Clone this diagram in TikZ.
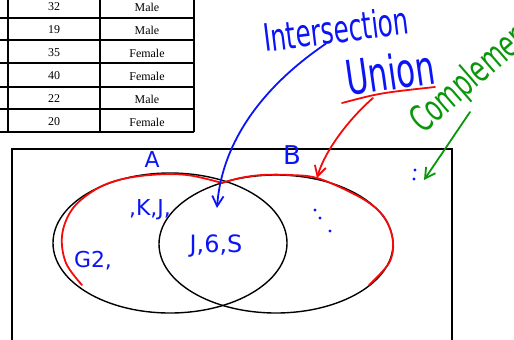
\documentclass[tikz,border=0pt]{standalone}
\usepackage{fontspec}
\setmainfont{Liberation Serif}
\newfontfamily\tallink[FakeStretch=0.65]{DejaVu Sans}
\newfontfamily\ink{DejaVu Sans}
\usepackage{tikz}
\usetikzlibrary{positioning,arrows.meta,shapes.geometric}
\usepackage{xcolor}
\definecolor{inkblue}{RGB}{10,20,245}
\definecolor{inkred}{RGB}{245,10,10}
\definecolor{inkgreen}{RGB}{10,150,10}

\begin{document}
\begin{tikzpicture}[x=1bp,y=-1bp,>={Straight Barb[length=3.6mm,width=4mm]}]
\tikzset{
  cell/.style={font=\fontsize{12}{14}\selectfont},
  grid/.style={line width=1.6pt},
  set/.style={draw,ellipse,line width=1.4pt,inner sep=0pt,outer sep=0pt},
  note/.style={text=inkblue,font=\ink\fontsize{#1}{#1}\selectfont,inner sep=0pt},
  title/.style={font=\tallink\fontsize{#1}{#1}\selectfont,inner sep=0pt},
  pen/.style={line width=1.8pt,line cap=round,line join=round}
}
\useasboundingbox (0,0) rectangle (514,339);
\clip (0,0) rectangle (514,339);

% table (cut off at the top)
\foreach \y in {18,40,63,87,109,132}
  \draw[grid] (0,\y) -- (194,\y);
\foreach \x in {8,100,194}
  \draw[grid] (\x,0) -- (\x,132);
\foreach \age/\sex [count=\i] in {32/Male,19/Male,35/Female,40/Female,22/Male,20/Female}{
  \node[cell] (age\i) at (54,23*\i-16) {\age};
  \node[cell] (sex\i) at (147,23*\i-16) {\sex};
}

% universe and the two sets
\draw[line width=2pt] (12,149) rectangle (452,350);
\node[set,minimum width=234bp,minimum height=140bp] (A) at (170,243) {};
\node[set,minimum width=234bp,minimum height=138bp] (B) at (276,244) {};

% union outline
\draw[pen,inkred] plot[smooth,tension=0.6] coordinates {(82,285) (66,263) (62,236) (71,211) (90,193) (115,181) (150,175) (187,175) (222,183)};
\draw[pen,inkred] plot[smooth,tension=0.6] coordinates {(222,183) (240,178) (262,175) (290,175) (317,178) (350,192) (372,205) (386,220) (393,242) (389,263) (369,285)};

% set labels and elements
\node[note=22] (lA) at (152,160) {A};
\node[note=26] (lB) at (292,155) {B};
\node[note=22] (onlyA) at (150,210) {,K,J,};
\node[note=22] (g2) at (93,261) {G2,};
\node[note=24] (both) at (216,246) {J,6,S};
\foreach \p in {(315,210),(320,218),(330,231),(415,170),(414,179)}
  \fill[inkblue] \p circle (1.6);

% headings
\node[title=38,text=inkblue,rotate=7] (isect) at (336,29) {Intersection};
\node[title=48,text=inkblue,rotate=8] (union) at (390,72) {Union};
\node[title=37,text=inkgreen,rotate=41,anchor=base west] (compl) at (423,135) {Complement};

\coordinate (ulA) at (342,103);
\coordinate (ulB) at (435,87);
\coordinate (ulM) at (373,98);
\coordinate (ptI) at (217,208);
\coordinate (ptU) at (317,178);
\coordinate (gtail) at (470,112);
\coordinate (gtip) at (424,180);

\draw[pen,inkred] (ulA) .. controls (380,93) .. (ulB);
\draw[pen,inkblue,->] ([xshift=-12bp]isect.south) .. controls (265,85) and (222,140) .. (ptI);
\draw[pen,inkred,->] (ulM) .. controls (350,118) and (325,150) .. (ptU);
\draw[pen,inkgreen,->] (gtail) -- (gtip);
\end{tikzpicture}
\end{document}
